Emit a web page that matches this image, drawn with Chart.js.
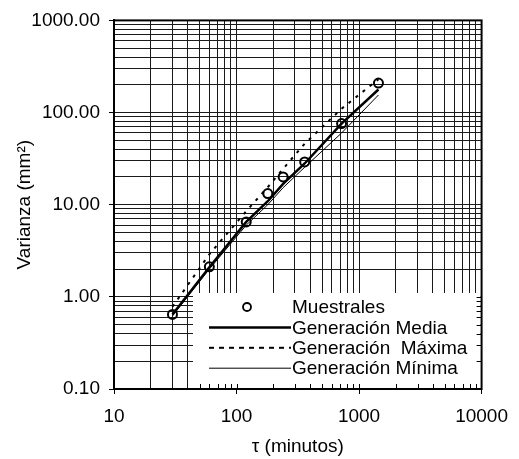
<!DOCTYPE html>
<html><head><meta charset="utf-8">
<script src="https://cdn.jsdelivr.net/npm/chart.js@4"></script>
<style>html,body{margin:0;padding:0;background:#fff}</style>
</head><body>
<canvas id="c" width="519" height="459"></canvas>
<script>
// ---- data ----
const tau        = [30, 60, 120, 180, 240, 360, 720, 1440];
const muestrales = [0.645, 2.12, 6.5, 13.2, 20.0, 29.1, 76, 209];
const media      = [0.645, 2.1, 6.5, 10.9, 16.8, 28, 76, 178];
const maxima     = [0.78, 2.9, 8.5, 15.5, 24.5, 46, 110, 230];
const minima     = [0.62, 2.0, 6.0, 10.0, 15.3, 25.5, 60, 155];

const xMajorValues = [10, 100, 1000, 10000];
const xTickLabels  = ['10', '100', '1000', '10000'];
const yMajorValues = [0.1, 1, 10, 100, 1000];
const yTickLabels  = ['0.10', '1.00', '10.00', '100.00', '1000.00'];

const seriesLabels = ['Muestrales', 'Generación Media', 'Generación  Máxima', 'Generación Mínima'];

const FONT = 'Liberation Sans, Arial, sans-serif';
const FS = 19;

function logGrid(majors) {
  const out = [];
  for (let i = 0; i < majors.length - 1; i++) {
    for (let m = 1; m <= 9; m++) out.push(Number((majors[i] * m).toPrecision(4)));
  }
  out.push(majors[majors.length - 1]);
  return out;
}
const xGrid = logGrid(xMajorValues);
const yGrid = logGrid(yMajorValues);

const pts = arr => tau.map((t, i) => ({x: t, y: arr[i]}));

const legendPlugin = {
  id: 'legendPlugin',
  beforeDatasetsDraw(chart) {
    const {ctx, chartArea: a, scales} = chart;
    const x0 = 193, y0 = 293, x1 = a.right - 1, y1 = a.bottom - 1;
    ctx.save();
    ctx.fillStyle = '#fff';
    ctx.fillRect(x0, y0, x1 - x0, y1 - y0);
    ctx.strokeStyle = '#000';
    ctx.lineWidth = 1;
    ctx.beginPath();
    scales.x.ticks.forEach(t => {
      const px = Math.round(scales.x.getPixelForValue(t.value)) + 0.5;
      if (px > x0 && px < x1) { ctx.moveTo(px, a.bottom); ctx.lineTo(px, a.bottom - 5); }
    });
    scales.y.ticks.forEach(t => {
      const py = Math.round(scales.y.getPixelForValue(t.value)) + 0.5;
      if (py > y0 && py < y1) { ctx.moveTo(a.right, py); ctx.lineTo(a.right - 5, py); }
    });
    ctx.stroke();
    ctx.restore();
  },
  afterDatasetsDraw(chart) {
    const {ctx} = chart;
    ctx.save();
    ctx.font = FS + 'px ' + FONT;
    ctx.textBaseline = 'middle';
    ctx.fillStyle = '#000';
    chart.data.datasets.forEach((ds, i) => {
      const y = 307 + i * 20.4;
      ctx.strokeStyle = '#000';
      if (ds.showLine === false) {
        ctx.lineWidth = 1.8;
        ctx.setLineDash([]);
        ctx.beginPath();
        ctx.arc(247, y, 4, 0, Math.PI * 2);
        ctx.stroke();
      } else {
        ctx.lineWidth = ds.borderWidth;
        ctx.setLineDash(ds.legendDash || []);
        ctx.beginPath();
        ctx.moveTo(209, y);
        ctx.lineTo(291, y);
        ctx.stroke();
      }
      ctx.setLineDash([]);
      ctx.fillText(ds.label, 292, y + 1);
    });
    ctx.restore();
  },
  afterDraw(chart) {
    const {ctx, chartArea: a} = chart;
    ctx.save();
    ctx.strokeStyle = '#000';
    ctx.lineWidth = 2;
    ctx.strokeRect(a.left, a.top, a.right - a.left, a.bottom - a.top);
    ctx.restore();
  }
};

const tickColor = c => (c.tick && c.tick.major) ? '#000' : 'rgba(0,0,0,0)';

new Chart(document.getElementById('c'), {
  type: 'line',
  data: {
    datasets: [
      {label: seriesLabels[0], data: pts(muestrales), showLine: false, pointRadius: 4.5,
       pointBorderWidth: 2, pointBorderColor: '#000', pointBackgroundColor: 'rgba(255,255,255,0)', borderColor: '#000'},
      {label: seriesLabels[1], data: pts(media), borderColor: '#000', borderWidth: 2.5, pointRadius: 0, tension: 0},
      {label: seriesLabels[2], data: pts(maxima), borderColor: '#000', borderWidth: 2, borderDash: [3, 6],
       legendDash: [5, 5], pointRadius: 0, tension: 0},
      {label: seriesLabels[3], data: pts(minima), borderColor: '#000', borderWidth: 1, pointRadius: 0, tension: 0}
    ]
  },
  options: {
    responsive: false,
    animation: false,
    layout: {padding: {top: 20, right: 30, left: 0, bottom: 0}},
    plugins: {legend: {display: false}, tooltip: {enabled: false}},
    scales: {
      x: {
        type: 'logarithmic', min: 10, max: 10000, position: 'bottom',
        afterBuildTicks: s => { s.ticks = xGrid.map(v => ({value: v, major: xMajorValues.includes(v)})); },
        afterFit: s => { s.height = 70; },
        ticks: {
          autoSkip: false, maxRotation: 0, minRotation: 0, padding: 11, color: '#000',
          font: {family: FONT, size: FS},
          callback: v => { const k = xMajorValues.indexOf(v); return k >= 0 ? xTickLabels[k] : ''; }
        },
        grid: {color: '#1a1a1a', lineWidth: 1, tickLength: 5, tickColor: tickColor},
        border: {color: '#000', width: 2},
        title: {display: true, text: 'τ (minutos)', color: '#000',
                font: {family: FONT, size: FS, lineHeight: 1.2}, padding: {top: 0, bottom: 1}}
      },
      y: {
        type: 'logarithmic', min: 0.1, max: 1000, position: 'left',
        afterBuildTicks: s => { s.ticks = yGrid.map(v => ({value: v, major: yMajorValues.includes(v)})); },
        afterFit: s => { s.width = 114; },
        ticks: {
          autoSkip: false, padding: 9, color: '#000',
          font: {family: FONT, size: FS},
          callback: v => { const k = yMajorValues.indexOf(v); return k >= 0 ? yTickLabels[k] : ''; }
        },
        grid: {color: '#1a1a1a', lineWidth: 1, tickLength: 5, tickColor: tickColor},
        border: {color: '#000', width: 2},
        title: {display: true, text: 'Varianza (mm²)', color: '#000',
                font: {family: FONT, size: FS, lineHeight: 1.2}, padding: {top: 13, bottom: 0}}
      }
    }
  },
  plugins: [legendPlugin]
});
</script>
</body></html>
